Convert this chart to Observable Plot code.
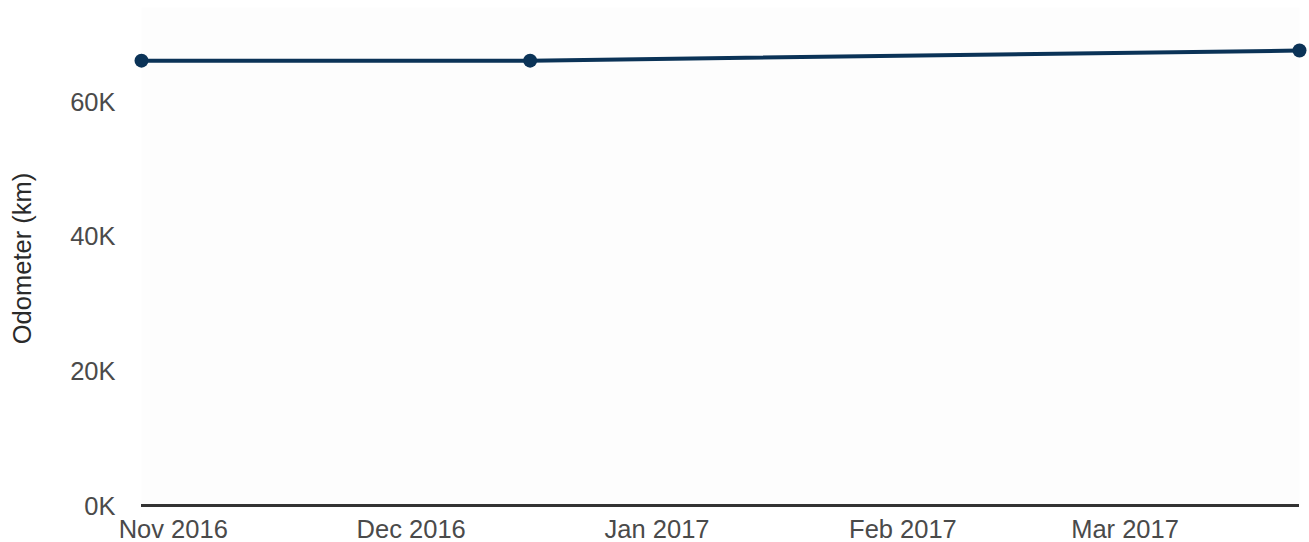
<!DOCTYPE html>
<html><head><meta charset="utf-8">
<script src="https://cdn.jsdelivr.net/npm/d3@7"></script>
<script src="https://cdn.jsdelivr.net/npm/@observablehq/plot@0.6"></script>
<style>
body{margin:0;background:#fff;}
svg{font-family:"Liberation Sans",Arial,sans-serif;}
</style></head><body>
<div id="chart"></div>
<script>
const dates = ["2016-10-28", "2016-12-16", "2017-03-23"];
const odometer = [66100, 66100, 67600];
const yTicks = [0, 20000, 40000, 60000];
const xTicks = ["2016-11-01", "2016-12-01", "2017-01-01", "2017-02-01", "2017-03-01"];

const data = dates.map((d, i) => ({date: new Date(d), km: odometer[i]}));
const W = 1309, H = 542;
const plot = Plot.plot({
  width: W, height: H,
  marginLeft: 141, marginRight: 10, marginTop: 7, marginBottom: 37,
  style: {fontSize: "25.5px", fontFamily: "'Liberation Sans', Arial, sans-serif", background: "#fff"},
  x: {type: "utc", domain: d3.extent(data, d => d.date), label: null},
  y: {domain: [0, 74000], label: null},
  marks: [
    Plot.frame({fill: "#fdfdfd", stroke: null}),
    Plot.ruleY([0], {stroke: "#333", strokeWidth: 3}),
    Plot.axisY({ticks: yTicks, tickFormat: d => d / 1000 + "K", tickSize: 0, tickPadding: 26,
      fill: "#4a4a4a", label: null, dy: 1}),
    Plot.text(["Odometer (km)"], {frameAnchor: "left", textAnchor: "middle", dx: -119, dy: 2, rotate: -90, fill: "#2a2a2a", fontSize: 25.5}),
    Plot.axisX({ticks: xTicks.map(d => new Date(d)), tickFormat: d3.utcFormat("%b %Y"), tickSize: 0,
      tickPadding: 12, fill: "#4a4a4a", label: null, dy: 2}),
    Plot.line(data, {x: "date", y: "km", stroke: "#0b3357", strokeWidth: 4}),
    Plot.dot(data, {x: "date", y: "km", fill: "#0b3357", r: 7, stroke: null})
  ]
});
document.getElementById("chart").appendChild(plot);
</script></body></html>
